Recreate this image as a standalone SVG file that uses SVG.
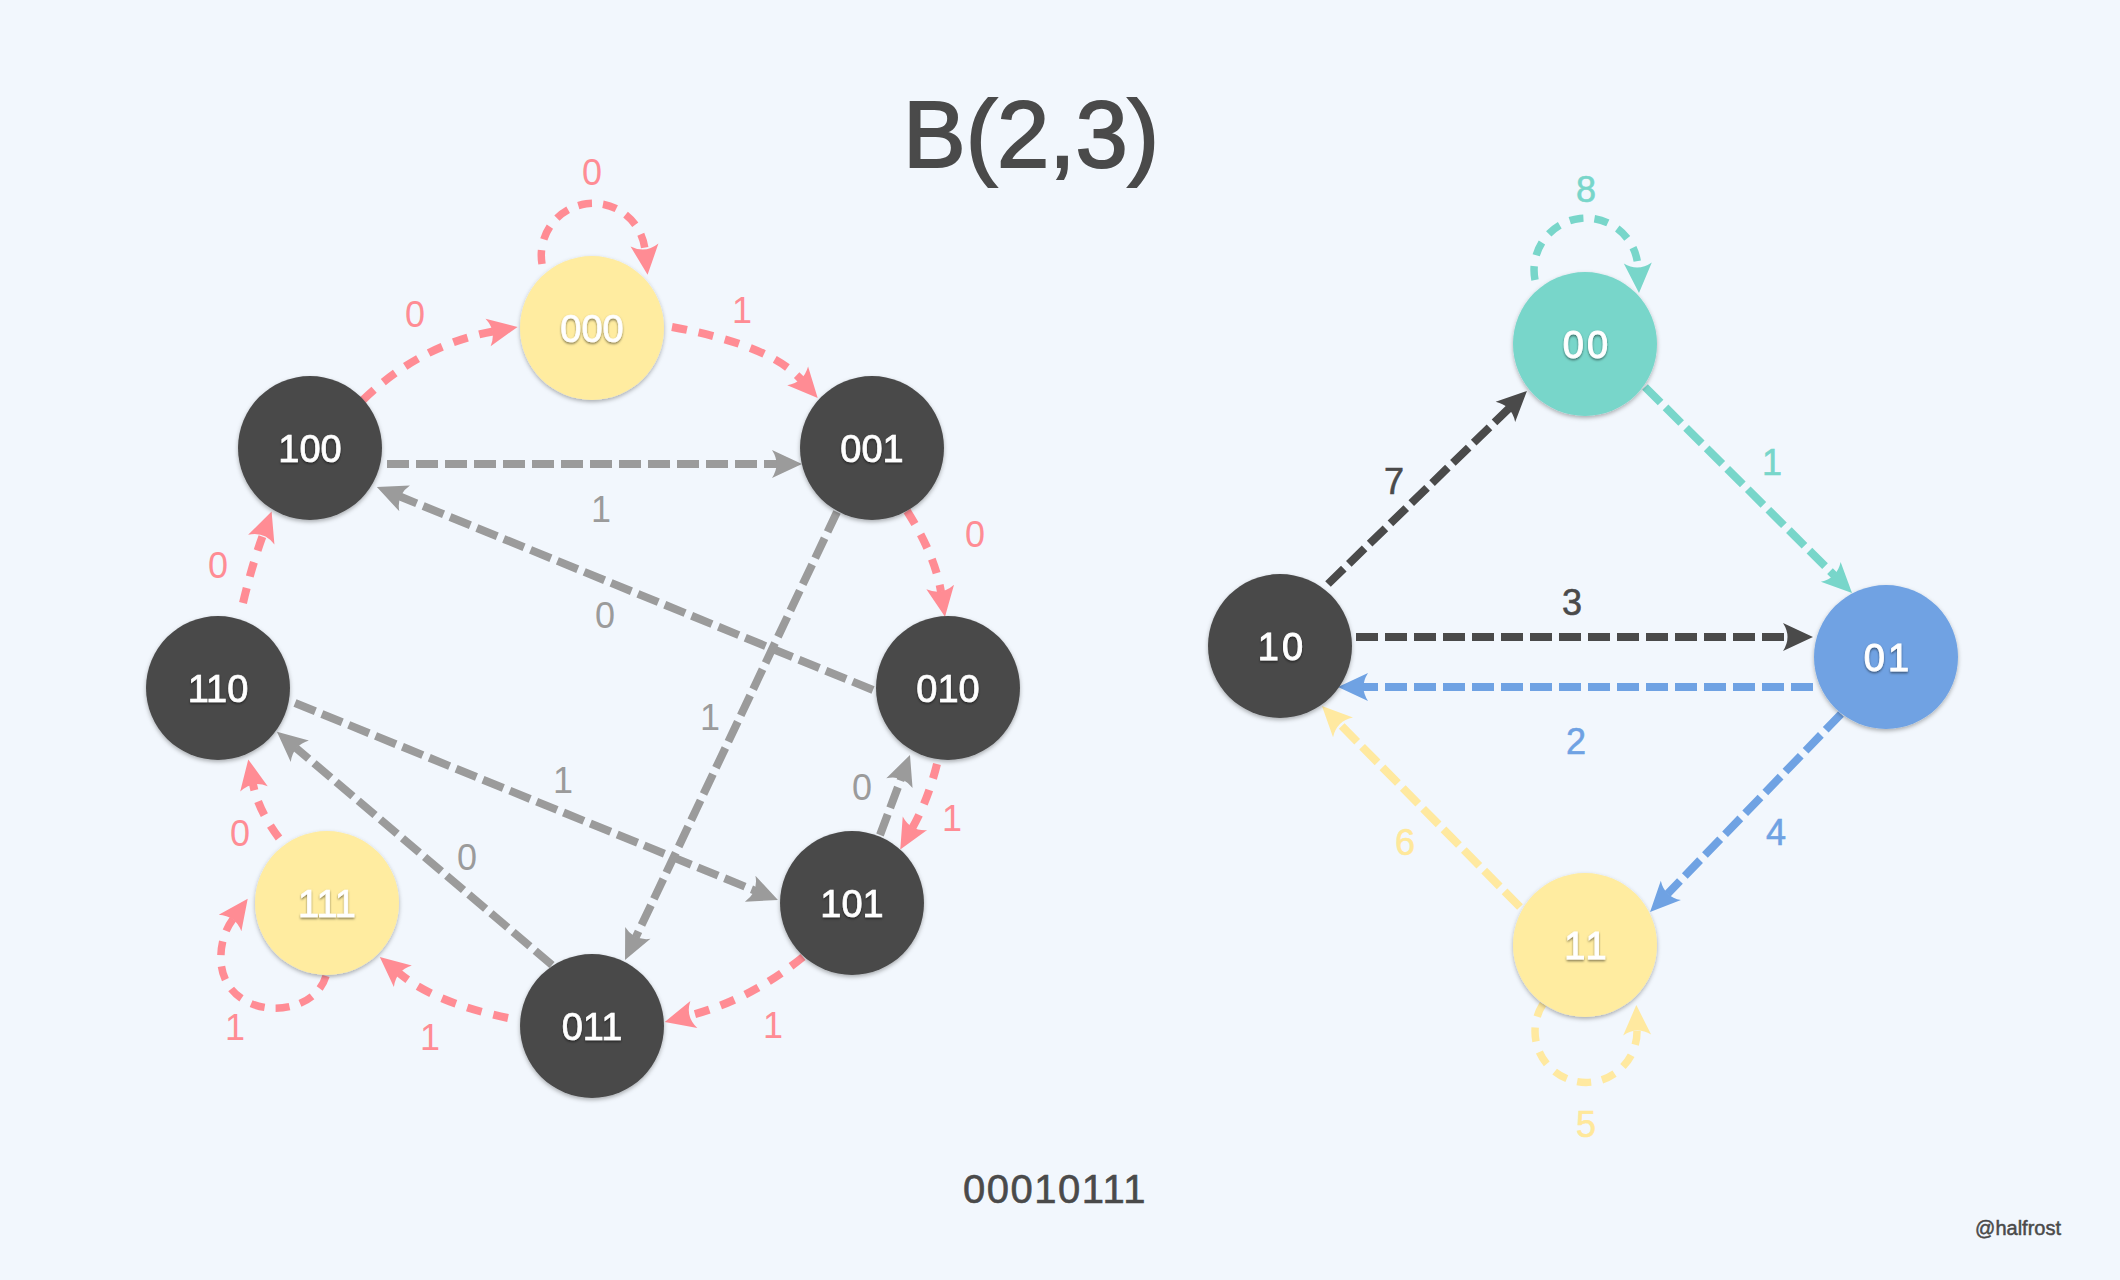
<svg xmlns="http://www.w3.org/2000/svg" width="2120" height="1280" viewBox="0 0 2120 1280">
<defs>
<style>
.bg{fill:#f2f7fd}
.nd{fill:#4a4a4a}
.ny{fill:#ffeca0}
.nt{fill:#78d6ca}
.nb{fill:#6fa2e3}
.circ{filter:url(#shadow)}
.nl{font-family:"Liberation Sans",Arial,sans-serif;font-size:38px;fill:#ffffff;stroke:#ffffff;stroke-width:0.7px;text-anchor:middle;filter:url(#tshadow)}
.nr{font-family:"Liberation Sans",Arial,sans-serif;font-size:38px;fill:#ffffff;stroke:#ffffff;stroke-width:0.9px;text-anchor:middle;letter-spacing:3px;filter:url(#tshadow)}
.e{fill:none;stroke-linecap:butt}
.pink{stroke:#ff8c94;stroke-width:8;stroke-dasharray:15 12}
.gray{stroke:#9b9b9b;stroke-width:8;stroke-dasharray:22 7}
.dark{stroke:#4a4a4a;stroke-width:8;stroke-dasharray:22 7}
.teal{stroke:#78d6ca;stroke-width:8;stroke-dasharray:22 7}
.blue{stroke:#6fa2e3;stroke-width:8;stroke-dasharray:22 7}
.yel{stroke:#ffe9a0;stroke-width:8;stroke-dasharray:22 7}
.loop{stroke-width:7.5;stroke-dasharray:14 11}
.lb{font-family:"Liberation Sans",Arial,sans-serif;font-size:36px;text-anchor:middle}
.lr{stroke-width:0.6px}
.lp{fill:#ff8c94}
.lg{fill:#9b9b9b}
.ld{fill:#4a4a4a;stroke:#4a4a4a}
.lt{fill:#78d6ca;stroke:#78d6ca}
.lbl{fill:#6fa2e3;stroke:#6fa2e3}
.ly{fill:#ffe89a;stroke:#ffe89a}
.title{font-family:"Liberation Sans",Arial,sans-serif;font-size:94px;fill:#4a4a4a;stroke:#4a4a4a;stroke-width:2px;text-anchor:middle}
</style>
<filter id="shadow" x="-20%" y="-20%" width="140%" height="150%">
<feDropShadow dx="0" dy="2" stdDeviation="2" flood-color="#000" flood-opacity="0.3"/>
</filter>
<filter id="tshadow" x="-20%" y="-30%" width="140%" height="160%">
<feDropShadow dx="0" dy="1.5" stdDeviation="1" flood-color="#000" flood-opacity="0.5"/>
</filter>
<marker id="ap" markerUnits="userSpaceOnUse" markerWidth="40" markerHeight="40" refX="5" refY="0" orient="auto" overflow="visible"><path d="M0,-14 L30,0 L0,14 Q9,0 0,-14 Z" fill="#ff8c94"/></marker>
<marker id="ag" markerUnits="userSpaceOnUse" markerWidth="40" markerHeight="40" refX="5" refY="0" orient="auto" overflow="visible"><path d="M0,-14 L30,0 L0,14 Q9,0 0,-14 Z" fill="#9b9b9b"/></marker>
<marker id="ad" markerUnits="userSpaceOnUse" markerWidth="40" markerHeight="40" refX="5" refY="0" orient="auto" overflow="visible"><path d="M0,-14 L30,0 L0,14 Q9,0 0,-14 Z" fill="#4a4a4a"/></marker>
<marker id="at" markerUnits="userSpaceOnUse" markerWidth="40" markerHeight="40" refX="5" refY="0" orient="auto" overflow="visible"><path d="M0,-14 L30,0 L0,14 Q9,0 0,-14 Z" fill="#78d6ca"/></marker>
<marker id="ab" markerUnits="userSpaceOnUse" markerWidth="40" markerHeight="40" refX="5" refY="0" orient="auto" overflow="visible"><path d="M0,-14 L30,0 L0,14 Q9,0 0,-14 Z" fill="#6fa2e3"/></marker>
<marker id="ay" markerUnits="userSpaceOnUse" markerWidth="40" markerHeight="40" refX="5" refY="0" orient="auto" overflow="visible"><path d="M0,-14 L30,0 L0,14 Q9,0 0,-14 Z" fill="#ffe9a0"/></marker>
</defs>
<rect class="bg" x="0" y="0" width="2120" height="1280"/>
<text class="title" x="1031" y="167">B(2,3)</text>

<g id="connectors">
<!-- left graph: pink edges -->
<path class="e pink" d="M363,400 Q420,345 493,331.5" marker-end="url(#ap)"/>
<path class="e pink" d="M672,327 Q770,345 801,379.5" marker-end="url(#ap)"/>
<path class="e pink loop" d="M542,264 A52,52 0 1 1 645,250" marker-end="url(#ap)"/>
<path class="e pink" d="M907,511 Q935,555 941,592" marker-end="url(#ap)"/>
<path class="e pink" d="M937,764 Q928,800 912.5,827.6" marker-end="url(#ap)"/>
<path class="e pink" d="M803,957 Q750,1000 689,1015.7" marker-end="url(#ap)"/>
<path class="e pink" d="M508,1018 Q435,1003 399,973" marker-end="url(#ap)"/>
<path class="e pink loop" d="M326,976 C312,1022 225,1020 221,962 C220,944 225,930 233,919" marker-end="url(#ap)"/>
<path class="e pink" d="M279,838 Q258,810 253,784" marker-end="url(#ap)"/>
<path class="e pink" d="M243,603 Q252,565 263,535" marker-end="url(#ap)"/>
<!-- left graph: gray edges -->
<path class="e gray" d="M387,464 L777,464" marker-end="url(#ag)"/>
<path class="e gray" d="M873,690 L400,496.5" marker-end="url(#ag)"/>
<path class="e gray" d="M837,512 L635.7,937.4" marker-end="url(#ag)"/>
<path class="e gray" d="M295,703 L754.8,890.6" marker-end="url(#ag)"/>
<path class="e gray" d="M552,965 L296,748" marker-end="url(#ag)"/>
<path class="e gray" d="M880,835 L901.2,778.4" marker-end="url(#ag)"/>
<!-- right graph -->
<path class="e dark" d="M1328,584 L1509,408.4" marker-end="url(#ad)"/>
<path class="e teal" d="M1645,387 L1834.3,575.4" marker-end="url(#at)"/>
<path class="e dark" d="M1356,637 L1788,637" marker-end="url(#ad)"/>
<path class="e blue" d="M1813,687 L1363,687" marker-end="url(#ab)"/>
<path class="e blue" d="M1841,714 L1667.4,894" marker-end="url(#ab)"/>
<path class="e yel" d="M1520,907 L1339.5,723.8" marker-end="url(#ay)"/>
<path class="e teal loop" d="M1535,280 A52,52 0 1 1 1638,268" marker-end="url(#at)"/>
<path class="e yel loop" d="M1543,1004 A51,51 0 1 0 1637,1030" marker-end="url(#ay)"/>

<!-- edge labels -->
<text class="lb lp" x="592" y="185">0</text>
<text class="lb lp" x="415" y="327">0</text>
<text class="lb lp" x="742" y="323">1</text>
<text class="lb lg" x="601" y="522">1</text>
<text class="lb lp" x="975" y="547">0</text>
<text class="lb lp" x="218" y="578">0</text>
<text class="lb lg" x="605" y="628">0</text>
<text class="lb lg" x="710" y="730">1</text>
<text class="lb lg" x="563" y="793">1</text>
<text class="lb lg" x="862" y="800">0</text>
<text class="lb lp" x="952" y="831">1</text>
<text class="lb lp" x="240" y="846">0</text>
<text class="lb lg" x="467" y="870">0</text>
<text class="lb lp" x="235" y="1040">1</text>
<text class="lb lp" x="430" y="1050">1</text>
<text class="lb lp" x="773" y="1038">1</text>
<text class="lb lr lt" x="1586" y="202">8</text>
<text class="lb lr lt" x="1772" y="475">1</text>
<text class="lb lr ld" x="1394" y="494">7</text>
<text class="lb lr ld" x="1572" y="615">3</text>
<text class="lb lr lbl" x="1576" y="754">2</text>
<text class="lb lr lbl" x="1776" y="845">4</text>
<text class="lb lr ly" x="1405" y="855">6</text>
<text class="lb lr ly" x="1586" y="1137">5</text>
</g>

<g id="n000"><circle class="ny circ" cx="592" cy="328" r="72"/><text class="nl" x="592" y="342">000</text></g>
<g id="n100"><circle class="nd circ" cx="310" cy="448" r="72"/><text class="nl" x="310" y="462">100</text></g>
<g id="n001"><circle class="nd circ" cx="872" cy="448" r="72"/><text class="nl" x="872" y="462">001</text></g>
<g id="n110"><circle class="nd circ" cx="218" cy="688" r="72"/><text class="nl" x="218" y="702">110</text></g>
<g id="n010"><circle class="nd circ" cx="948" cy="688" r="72"/><text class="nl" x="948" y="702">010</text></g>
<g id="n111"><circle class="ny circ" cx="327" cy="903" r="72"/><text class="nl" x="327" y="917">111</text></g>
<g id="n101"><circle class="nd circ" cx="852" cy="903" r="72"/><text class="nl" x="852" y="917">101</text></g>
<g id="n011"><circle class="nd circ" cx="592" cy="1026" r="72"/><text class="nl" x="592" y="1040">011</text></g>

<g id="n00"><circle class="nt circ" cx="1585" cy="344" r="72"/><text class="nr" x="1587" y="358">00</text></g>
<g id="n10"><circle class="nd circ" cx="1280" cy="646" r="72"/><text class="nr" x="1282" y="660">10</text></g>
<g id="n01"><circle class="nb circ" cx="1886" cy="657" r="72"/><text class="nr" x="1888" y="671">01</text></g>
<g id="n11"><circle class="ny circ" cx="1585" cy="945" r="72"/><text class="nr" x="1587" y="959">11</text></g>

<text x="1055" y="1203" font-family="Liberation Sans, Arial, sans-serif" font-size="40" fill="#4a4a4a" stroke="#4a4a4a" stroke-width="0.6" letter-spacing="1.5" text-anchor="middle">00010111</text>
<text x="2061" y="1235" font-family="Liberation Sans, Arial, sans-serif" font-size="20" fill="#4a4a4a" stroke="#4a4a4a" stroke-width="0.5" text-anchor="end">@halfrost</text>
</svg>
